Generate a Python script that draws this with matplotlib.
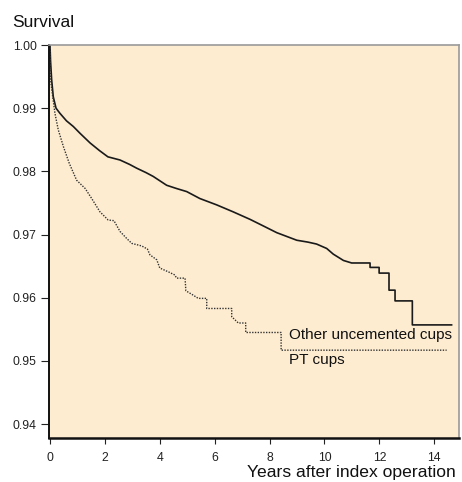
import numpy as np
import matplotlib
matplotlib.use('Agg')
import matplotlib.pyplot as plt

plt.rcParams['font.family'] = ['Liberation Sans', 'DejaVu Sans']

# Other uncemented cups (solid curve)
other_t = [0, 0.02, 0.06, 0.12, 0.22, 0.36, 0.6, 0.85, 1.1, 1.46, 1.8, 2.11, 2.55, 2.9,
           3.16, 3.5, 3.76, 4.25, 4.6, 4.98, 5.46, 6.07, 6.67, 7.29, 7.8, 8.26, 8.99,
           9.4, 9.71, 10.08, 10.32, 10.69, 10.99, 11.66, 11.66, 11.99, 11.99, 12.35,
           12.35, 12.57, 12.57, 13.2, 13.2, 14.63]
other_s = [1.0, 0.9975, 0.9945, 0.9918, 0.990, 0.9892, 0.988, 0.9871, 0.986, 0.9845,
           0.9833, 0.9823, 0.9818, 0.9811, 0.9805, 0.9798, 0.9792, 0.9778, 0.9773,
           0.9768, 0.9757, 0.9747, 0.9736, 0.9724, 0.9713, 0.9703, 0.9691, 0.9688,
           0.9685, 0.9678, 0.9669, 0.9659, 0.9655, 0.9655, 0.9648, 0.9648, 0.9639,
           0.9639, 0.9612, 0.9612, 0.9595, 0.9595, 0.9557, 0.9557]

# PT cups (dotted curve)
pt_t = [0, 0.02, 0.1, 0.18, 0.3, 0.49, 0.7, 0.97, 1.28, 1.52, 1.82, 2.12, 2.33, 2.55,
        2.79, 2.98, 3.34, 3.55, 3.64, 3.89, 4.0, 4.31, 4.55, 4.61, 4.92, 4.95, 5.22,
        5.4, 5.71, 5.71, 6.62, 6.62, 6.74, 6.86, 7.13, 7.13, 8.42, 8.42, 14.45]
pt_s = [1.0, 0.9945, 0.9918, 0.9892, 0.9866, 0.9839, 0.9813, 0.9786, 0.9773, 0.9757,
        0.9736, 0.9723, 0.9722, 0.9705, 0.9694, 0.9686, 0.9682, 0.9677, 0.9668, 0.966,
        0.9647, 0.9641, 0.9636, 0.9631, 0.9631, 0.9611, 0.9604, 0.9599, 0.9599, 0.9583,
        0.9583, 0.957, 0.9565, 0.956, 0.956, 0.9545, 0.9545, 0.9517, 0.9517]

x_ticks = [0, 2, 4, 6, 8, 10, 12, 14]
y_ticks = [0.94, 0.95, 0.96, 0.97, 0.98, 0.99, 1.00]

fig = plt.figure(figsize=(4.62, 4.82), dpi=100)
ax = fig.add_axes([49 / 462, 44 / 482, 410 / 462, 393 / 482])
ax.set_facecolor('#fdecd0')

ax.plot(other_t, other_s, color='#1a1a1a', lw=1.2)
ax.plot(pt_t, pt_s, color='#333333', lw=1.0, ls=(0, (1, 1)))

ax.set_xlim(-0.036, 14.9)
ax.set_ylim(0.9378, 1.0)
ax.set_xticks(x_ticks)
ax.set_yticks(y_ticks)
ax.set_yticklabels(['%.2f' % v for v in y_ticks])
ax.tick_params(axis='y', length=5.5, width=0.8, pad=3.5, labelsize=8.8, colors='#222222')
ax.tick_params(axis='x', length=4, width=0.8, pad=6, labelsize=8.8, colors='#222222')

for side in ['left', 'bottom']:
    ax.spines[side].set_color('#111111')
ax.spines['left'].set_linewidth(1.4)
ax.spines['bottom'].set_linewidth(1.8)
for side in ['top', 'right']:
    ax.spines[side].set_color('#9a9a9a')
    ax.spines[side].set_linewidth(1.2)

ax.text(8.71, 0.95353, 'Other uncemented cups', fontsize=11, va='baseline', color='#111111')
ax.text(8.71, 0.94957, 'PT cups', fontsize=11, va='baseline', color='#111111')

fig.text(12.5 / 462, 1 - 27.3 / 482, 'Survival', fontsize=12.5, va='baseline', color='#111111')
fig.text(247 / 462, 1 - 477.5 / 482, 'Years after index operation', fontsize=12.6,
         va='baseline', color='#111111')

fig.savefig('out.png', dpi=100)
